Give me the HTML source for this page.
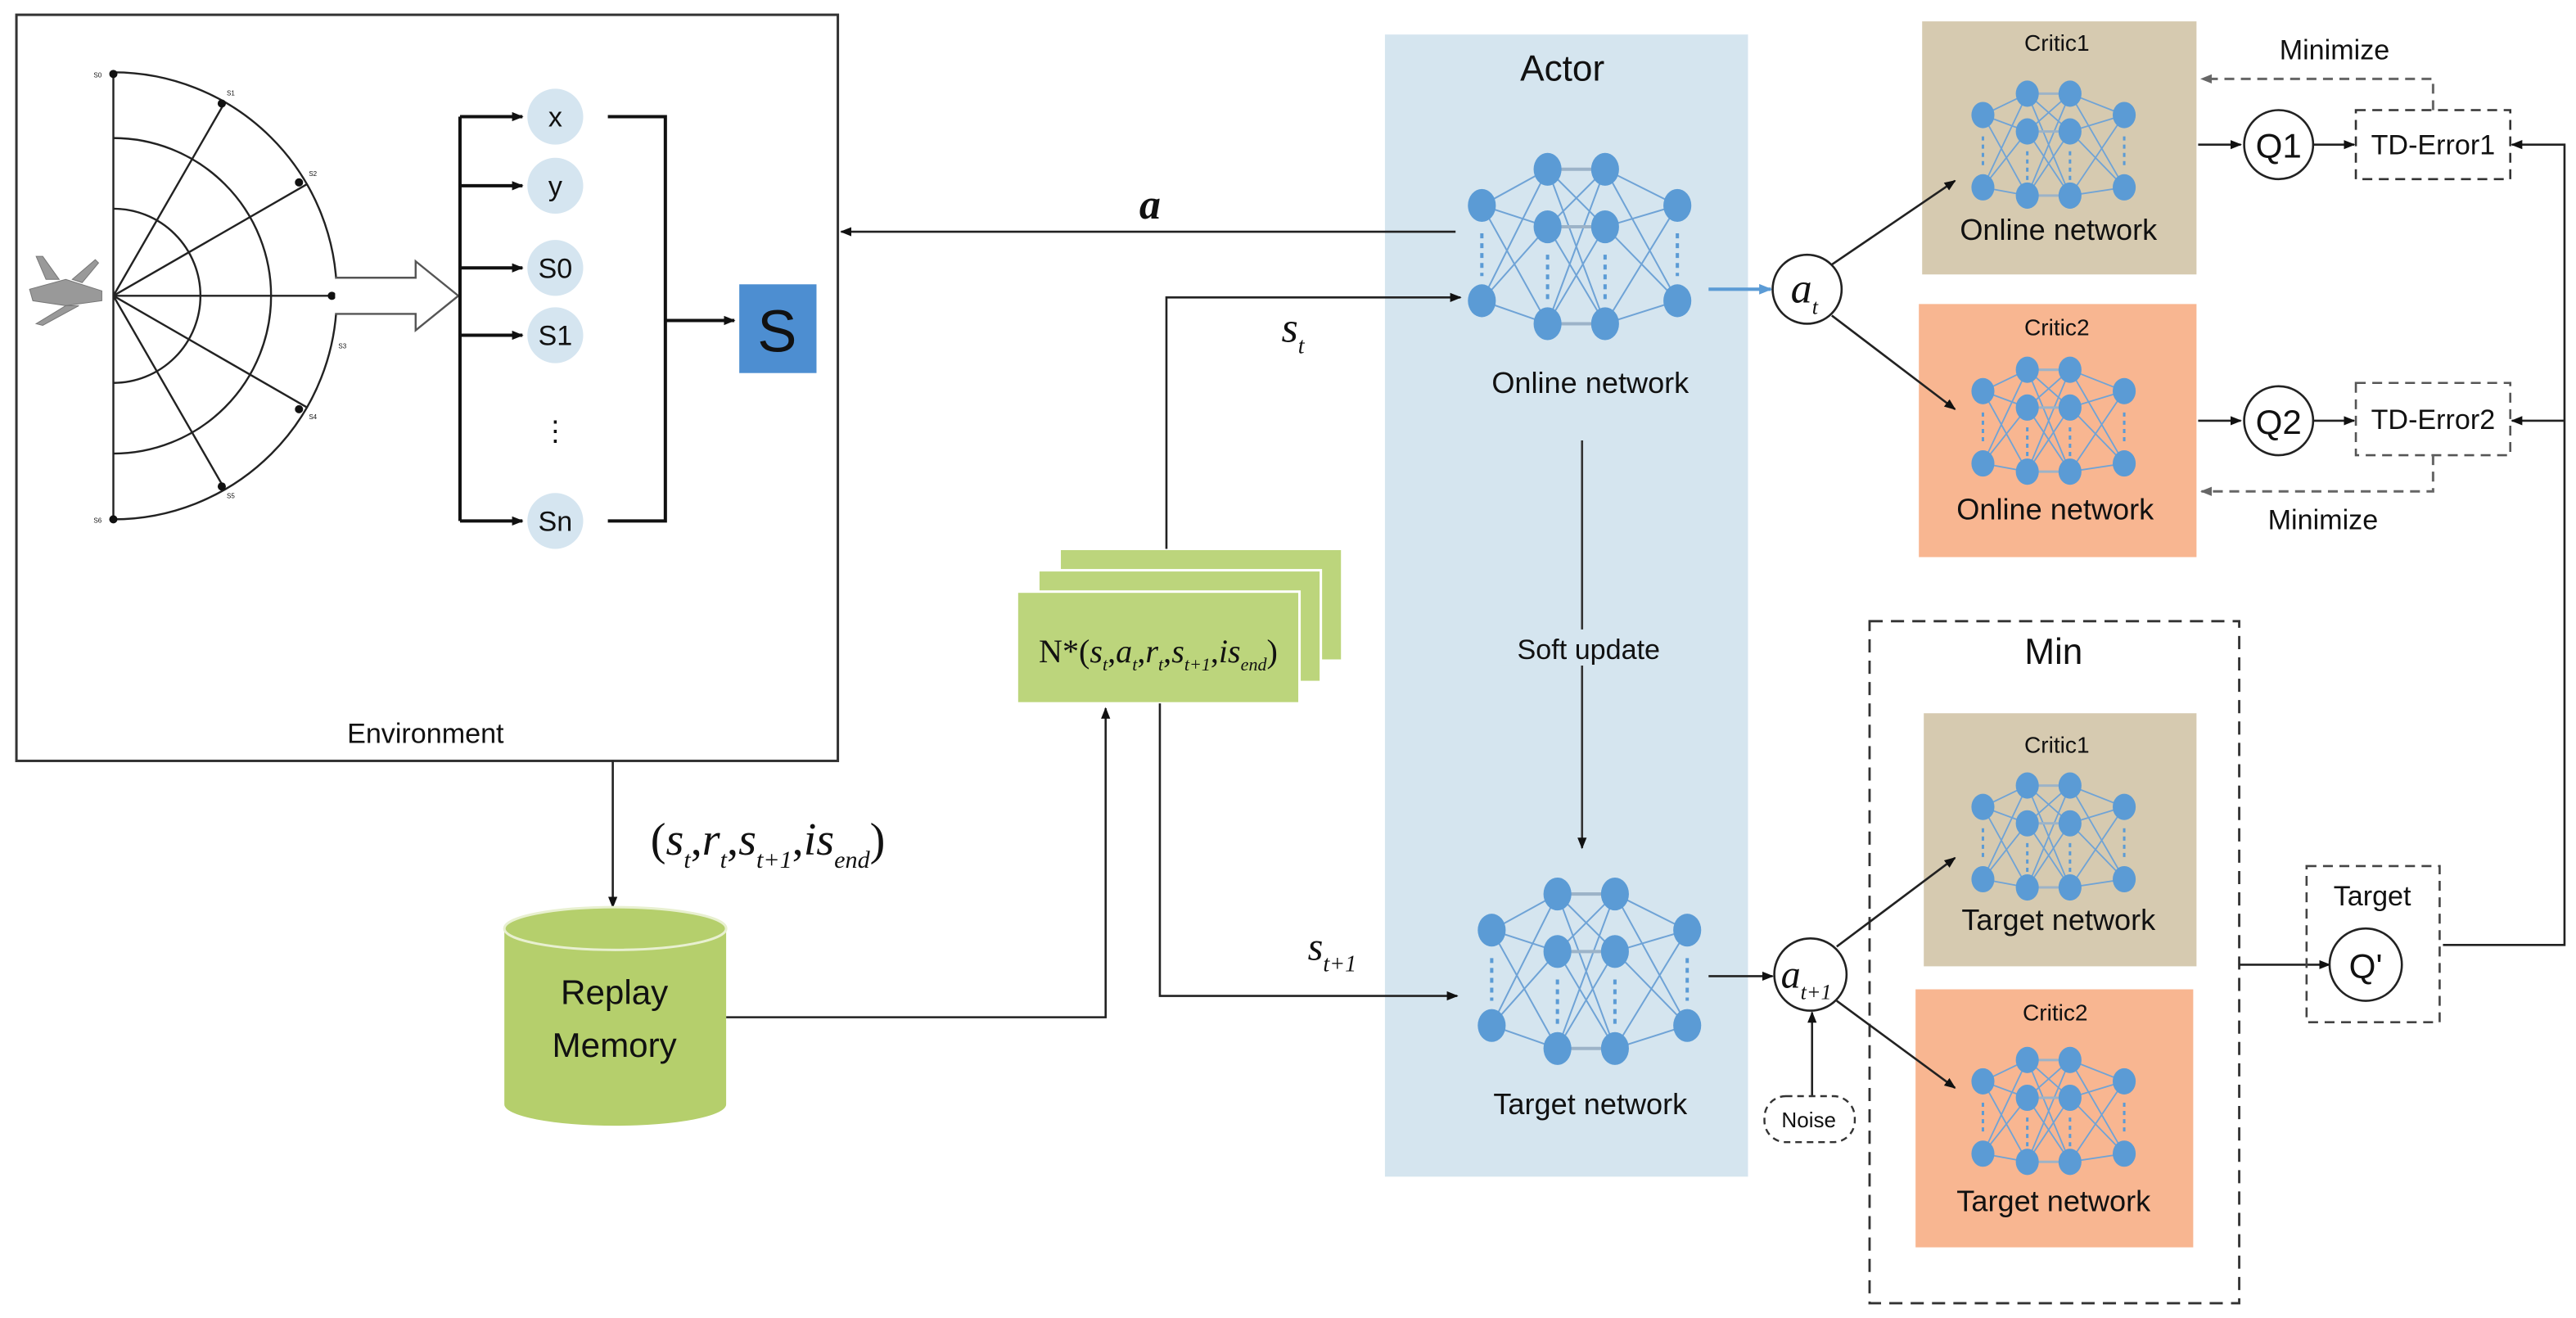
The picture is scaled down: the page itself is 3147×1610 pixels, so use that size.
<!DOCTYPE html>
<html><head><meta charset="utf-8"><style>
html,body{margin:0;padding:0;background:#fff;}
svg{display:block;}
text{font-family:"Liberation Sans",sans-serif;fill:#111;}
.m{font-family:"Liberation Serif",serif;font-style:italic;}
</style></head><body>
<svg width="3147" height="1610" viewBox="0 0 1568 802" preserveAspectRatio="none" xmlns="http://www.w3.org/2000/svg">
<defs>
<marker id="ar" viewBox="0 0 10 10" refX="9" refY="5" markerWidth="7" markerHeight="7" orient="auto-start-reverse" markerUnits="userSpaceOnUse"><path d="M0,1 L10,5 L0,9 z" fill="#111"/></marker>
<marker id="arb" viewBox="0 0 10 10" refX="9" refY="5" markerWidth="8" markerHeight="8" orient="auto" markerUnits="userSpaceOnUse"><path d="M0,1 L10,5 L0,9 z" fill="#5b9bd5"/></marker>
<marker id="arg" viewBox="0 0 10 10" refX="9" refY="5" markerWidth="7" markerHeight="7" orient="auto" markerUnits="userSpaceOnUse"><path d="M0,1 L10,5 L0,9 z" fill="#666"/></marker>
<g id="anet">
 <g stroke="#6fa3d6" stroke-width="1">
  <path d="M-60,-25L-20,-47M-60,-25L-20,-12M-60,-25L-20,47M-60,33L-20,-47M-60,33L-20,-12M-60,33L-20,47"/>
  <path d="M-20,-47L15,-12M-20,-47L15,47M-20,-12L15,-47M-20,-12L15,47M-20,47L15,-47M-20,47L15,-12"/>
  <path d="M15,-47L59,-25M15,-47L59,33M15,-12L59,-25M15,-12L59,33M15,47L59,-25M15,47L59,33"/>
 </g>
 <g stroke="#9cb3c8" stroke-width="2"><path d="M-20,-47H15M-20,-12H15M-20,47H15"/></g>
 <g stroke="#5b9bd5" stroke-width="2" stroke-dasharray="3,3"><path d="M-60,-8V18M-20,5V35M15,5V35M59,-8V18"/></g>
 <g fill="#5b9bd5"><ellipse cx="-60" cy="-25" rx="8.5" ry="10"/><ellipse cx="-60" cy="33" rx="8.5" ry="10"/><ellipse cx="-20" cy="-47" rx="8.5" ry="10"/><ellipse cx="-20" cy="-12" rx="8.5" ry="10"/><ellipse cx="-20" cy="47" rx="8.5" ry="10"/><ellipse cx="15" cy="-47" rx="8.5" ry="10"/><ellipse cx="15" cy="-12" rx="8.5" ry="10"/><ellipse cx="15" cy="47" rx="8.5" ry="10"/><ellipse cx="59" cy="-25" rx="8.5" ry="10"/><ellipse cx="59" cy="33" rx="8.5" ry="10"/></g>
</g>
<g id="cnet">
 <g stroke="#6fa3d6" stroke-width="0.9">
  <path d="M-43,-18L-16,-31M-43,-18L-16,-8M-43,-18L-16,31M-43,26L-16,-31M-43,26L-16,-8M-43,26L-16,31"/>
  <path d="M-16,-31L10,-8M-16,-31L10,31M-16,-8L10,-31M-16,-8L10,31M-16,31L10,-31M-16,31L10,-8"/>
  <path d="M10,-31L43,-18M10,-31L43,26M10,-8L43,-18M10,-8L43,26M10,31L43,-18M10,31L43,26"/>
 </g>
 <g stroke="#9cb3c8" stroke-width="1.5"><path d="M-16,-31H10M-16,-8H10M-16,31H10"/></g>
 <g stroke="#5b9bd5" stroke-width="1.5" stroke-dasharray="2.5,2.5"><path d="M-43,-5V15M-16,4V22M10,4V22M43,-5V15"/></g>
 <g fill="#5b9bd5"><ellipse cx="-43" cy="-18" rx="7" ry="8"/><ellipse cx="-43" cy="26" rx="7" ry="8"/><ellipse cx="-16" cy="-31" rx="7" ry="8"/><ellipse cx="-16" cy="-8" rx="7" ry="8"/><ellipse cx="-16" cy="31" rx="7" ry="8"/><ellipse cx="10" cy="-31" rx="7" ry="8"/><ellipse cx="10" cy="-8" rx="7" ry="8"/><ellipse cx="10" cy="31" rx="7" ry="8"/><ellipse cx="43" cy="-18" rx="7" ry="8"/><ellipse cx="43" cy="26" rx="7" ry="8"/></g>
</g>
</defs>

<!-- Environment -->
<rect x="10" y="9" width="500" height="454" fill="#fff" stroke="#333" stroke-width="1.5"/>
<text x="259" y="452" font-size="17" text-anchor="middle">Environment</text>
<g fill="none" stroke="#222" stroke-width="1.2">
 <path d="M69,44 A136,136 0 0 1 69,316"/>
 <path d="M69,84 A96,96 0 0 1 69,276"/>
 <path d="M69,127 A53,53 0 0 1 69,233"/>
 <path d="M69,44V317M69,180H204M69,180L137,62M69,180L187,112M69,180L187,248M69,180L137,298"/>
</g>
<g fill="#111"><circle cx="69" cy="45" r="2.5"/><circle cx="69" cy="316" r="2.5"/><circle cx="135" cy="63" r="2.5"/><circle cx="182" cy="111" r="2.5"/><circle cx="202" cy="180" r="2.5"/><circle cx="182" cy="249" r="2.5"/><circle cx="135" cy="296" r="2.5"/></g>
<g font-size="4" fill="#333"><text x="57" y="47">S0</text><text x="138" y="58">S1</text><text x="188" y="107">S2</text><text x="206" y="212">S3</text><text x="188" y="255">S4</text><text x="138" y="303">S5</text><text x="57" y="318">S6</text></g>
<!-- aircraft -->
<g fill="#999" stroke="#777" stroke-width="0.5">
 <path d="M18,176 L40,170 L62,177 L62,183 L40,186 L20,183 z"/>
 <path d="M28,170 L22,156 L26,156 L36,170 z"/>
 <path d="M44,170 L58,158 L60,160 L50,172 z"/>
 <path d="M40,186 L22,197 L26,198 L48,186 z"/>
</g>
<!-- hollow arrow -->
<path d="M204,169 H253 V159 L279,180 L253,201 V191 H204" fill="#fff" stroke="#555" stroke-width="1.2"/>
<!-- bracket & arrows -->
<g stroke="#111" stroke-width="2" fill="none">
 <path d="M280,71V317"/>
 <path d="M280,71H318" marker-end="url(#ar)"/>
 <path d="M280,113H318" marker-end="url(#ar)"/>
 <path d="M280,163H318" marker-end="url(#ar)"/>
 <path d="M280,204H318" marker-end="url(#ar)"/>
 <path d="M280,317H318" marker-end="url(#ar)"/>
 <path d="M370,71H405V317H370"/>
 <path d="M405,195H447" marker-end="url(#ar)"/>
</g>
<g fill="#d5e5f0"><circle cx="338" cy="71" r="17"/><circle cx="338" cy="113" r="17"/><circle cx="338" cy="163" r="17"/><circle cx="338" cy="204" r="17"/><circle cx="338" cy="317" r="17"/></g>
<g font-size="17" text-anchor="middle"><text x="338" y="77">x</text><text x="338" y="119">y</text><text x="338" y="169">S0</text><text x="338" y="210">S1</text><text x="338" y="323">Sn</text><text x="338" y="268">⋮</text></g>
<rect x="450" y="173" width="47" height="54" fill="#4d8ed1"/>
<text x="473" y="214" font-size="36" text-anchor="middle">S</text>

<!-- Actor -->
<rect x="843" y="21" width="221" height="695" fill="#d5e5ef"/>
<text x="951" y="49" font-size="22" text-anchor="middle">Actor</text>
<use href="#anet" transform="translate(962,150)"/>
<text x="968" y="239" font-size="18" text-anchor="middle">Online network</text>
<use href="#anet" transform="translate(968,591)"/>
<text x="968" y="678" font-size="18" text-anchor="middle">Target network</text>
<path d="M963,268V516" stroke="#333" stroke-width="1.3" marker-end="url(#ar)"/>
<rect x="912" y="383" width="108" height="22" fill="#d5e5ef"/>
<text x="967" y="401" font-size="17" text-anchor="middle">Soft update</text>

<!-- a arrow -->
<path d="M886,141H512" stroke="#222" stroke-width="1.3" marker-end="url(#ar)"/>
<text x="700" y="133" font-size="26" class="m" font-weight="bold" text-anchor="middle">a</text>

<!-- buffer -->
<rect x="645" y="334" width="172" height="68" fill="#bcd57c" stroke="#fff" stroke-width="1.5"/>
<rect x="632" y="347" width="172" height="68" fill="#bcd57c" stroke="#fff" stroke-width="1.5"/>
<rect x="619" y="360" width="172" height="68" fill="#bcd57c" stroke="#fff" stroke-width="1.5"/>
<text x="705" y="403" font-size="20" text-anchor="middle" style="font-family:'Liberation Serif',serif">N*(<tspan class="m">s</tspan><tspan class="m" font-size="11" dy="5">t</tspan><tspan dy="-5">,</tspan><tspan class="m">a</tspan><tspan class="m" font-size="11" dy="5">t</tspan><tspan dy="-5">,</tspan><tspan class="m">r</tspan><tspan class="m" font-size="11" dy="5">t</tspan><tspan dy="-5">,</tspan><tspan class="m">s</tspan><tspan class="m" font-size="11" dy="5">t+1</tspan><tspan dy="-5">,</tspan><tspan class="m">is</tspan><tspan class="m" font-size="11" dy="5">end</tspan><tspan dy="-5">)</tspan></text>
<g stroke="#222" stroke-width="1.3" fill="none">
 <path d="M710,334V181H889" marker-end="url(#ar)"/>
 <path d="M706,428V606H887" marker-end="url(#ar)"/>
 <path d="M373,463V552" marker-end="url(#ar)"/>
 <path d="M442,619H673V431" marker-end="url(#ar)"/>
</g>
<text x="780" y="208" font-size="26" class="m">s<tspan font-size="14" dy="7">t</tspan></text>
<text x="796" y="584" font-size="24" class="m">s<tspan font-size="14" dy="7">t+1</tspan></text>
<text x="396" y="520" font-size="28" class="m" style="font-style:normal">(<tspan class="m">s</tspan><tspan class="m" font-size="15" dy="8">t</tspan><tspan dy="-8">,</tspan><tspan class="m">r</tspan><tspan class="m" font-size="15" dy="8">t</tspan><tspan dy="-8">,</tspan><tspan class="m">s</tspan><tspan class="m" font-size="15" dy="8">t+1</tspan><tspan dy="-8">,</tspan><tspan class="m">is</tspan><tspan class="m" font-size="15" dy="8">end</tspan><tspan dy="-8">)</tspan></text>

<!-- cylinder -->
<path d="M307,565 V672 A67.5,13 0 0 0 442,672 V565" fill="#b5cf6c"/>
<ellipse cx="374.5" cy="565" rx="67.5" ry="13" fill="#b5cf6c" stroke="#e8f0d0" stroke-width="1.5"/>
<text x="374" y="611" font-size="21" text-anchor="middle">Replay</text>
<text x="374" y="643" font-size="21" text-anchor="middle">Memory</text>

<!-- Critics online -->
<rect x="1170" y="13" width="167" height="154" fill="#d6cab0"/>
<text x="1252" y="31" font-size="14" text-anchor="middle">Critic1</text>
<use href="#cnet" transform="translate(1250,88)"/>
<text x="1253" y="146" font-size="18" text-anchor="middle">Online network</text>
<rect x="1168" y="185" width="169" height="154" fill="#f8b691"/>
<text x="1252" y="204" font-size="14" text-anchor="middle">Critic2</text>
<use href="#cnet" transform="translate(1250,256)"/>
<text x="1251" y="316" font-size="18" text-anchor="middle">Online network</text>

<!-- a_t -->
<path d="M1040,176H1078" stroke="#5b9bd5" stroke-width="2" marker-end="url(#arb)"/>
<circle cx="1100" cy="176" r="21" fill="#fff" stroke="#222" stroke-width="1.3"/>
<text x="1090" y="184" font-size="26" class="m">a<tspan font-size="13" dy="7">t</tspan></text>
<path d="M1115,161L1190,110" stroke="#222" stroke-width="1.3" marker-end="url(#ar)"/>
<path d="M1115,192L1190,249" stroke="#222" stroke-width="1.3" marker-end="url(#ar)"/>

<g stroke="#222" stroke-width="1.3" fill="none">
 <path d="M1338,88H1364" marker-end="url(#ar)"/>
 <path d="M1408,88H1433" marker-end="url(#ar)"/>
 <path d="M1338,256H1364" marker-end="url(#ar)"/>
 <path d="M1408,256H1433" marker-end="url(#ar)"/>
 <path d="M1487,575H1561V88H1529" marker-end="url(#ar)"/>
 <path d="M1561,256H1529" marker-end="url(#ar)"/>
</g>
<circle cx="1387" cy="88" r="21" fill="#fff" stroke="#222" stroke-width="1.3"/>
<text x="1387" y="96" font-size="21" text-anchor="middle">Q1</text>
<circle cx="1387" cy="256" r="21" fill="#fff" stroke="#222" stroke-width="1.3"/>
<text x="1387" y="264" font-size="21" text-anchor="middle">Q2</text>
<rect x="1434" y="67" width="94" height="42" fill="none" stroke="#333" stroke-width="1.3" stroke-dasharray="6,4"/>
<text x="1481" y="94" font-size="17" text-anchor="middle">TD-Error1</text>
<rect x="1434" y="233" width="94" height="44" fill="none" stroke="#555" stroke-width="1.3" stroke-dasharray="6,4"/>
<text x="1481" y="261" font-size="17" text-anchor="middle">TD-Error2</text>
<g stroke="#666" stroke-width="1.5" fill="none" stroke-dasharray="6,4">
 <path d="M1481,67V48H1340" marker-end="url(#arg)"/>
 <path d="M1481,277V299H1340" marker-end="url(#arg)"/>
</g>
<text x="1421" y="36" font-size="17" text-anchor="middle">Minimize</text>
<text x="1414" y="322" font-size="17" text-anchor="middle">Minimize</text>

<!-- Target side -->
<rect x="1138" y="378" width="225" height="415" fill="none" stroke="#333" stroke-width="1.4" stroke-dasharray="8,5"/>
<text x="1250" y="404" font-size="22" text-anchor="middle">Min</text>
<rect x="1171" y="434" width="166" height="154" fill="#d6cab0"/>
<text x="1252" y="458" font-size="14" text-anchor="middle">Critic1</text>
<use href="#cnet" transform="translate(1250,509)"/>
<text x="1253" y="566" font-size="18" text-anchor="middle">Target network</text>
<rect x="1166" y="602" width="169" height="157" fill="#f8b691"/>
<text x="1251" y="621" font-size="14" text-anchor="middle">Critic2</text>
<use href="#cnet" transform="translate(1250,676)"/>
<text x="1250" y="737" font-size="18" text-anchor="middle">Target network</text>

<path d="M1040,594H1079" stroke="#222" stroke-width="1.3" marker-end="url(#ar)"/>
<circle cx="1102" cy="593" r="22" fill="#fff" stroke="#222" stroke-width="1.3"/>
<text x="1084" y="601" font-size="24" class="m">a<tspan font-size="13" dy="7">t+1</tspan></text>
<path d="M1103,667V616" stroke="#222" stroke-width="1.3" marker-end="url(#ar)"/>
<rect x="1074" y="667" width="55" height="28" rx="13" fill="#fff" stroke="#333" stroke-width="1.2" stroke-dasharray="4,3"/>
<text x="1101" y="686" font-size="13" text-anchor="middle">Noise</text>
<path d="M1118,576L1190,522" stroke="#222" stroke-width="1.3" marker-end="url(#ar)"/>
<path d="M1118,609L1190,662" stroke="#222" stroke-width="1.3" marker-end="url(#ar)"/>

<path d="M1363,587H1418" stroke="#222" stroke-width="1.3" marker-end="url(#ar)"/>
<rect x="1404" y="527" width="81" height="95" fill="none" stroke="#444" stroke-width="1.3" stroke-dasharray="6,4"/>
<text x="1444" y="551" font-size="17" text-anchor="middle">Target</text>
<circle cx="1440" cy="587" r="22" fill="#fff" stroke="#222" stroke-width="1.3"/>
<text x="1440" y="595" font-size="21" text-anchor="middle">Q'</text>
</svg>
</body></html>
